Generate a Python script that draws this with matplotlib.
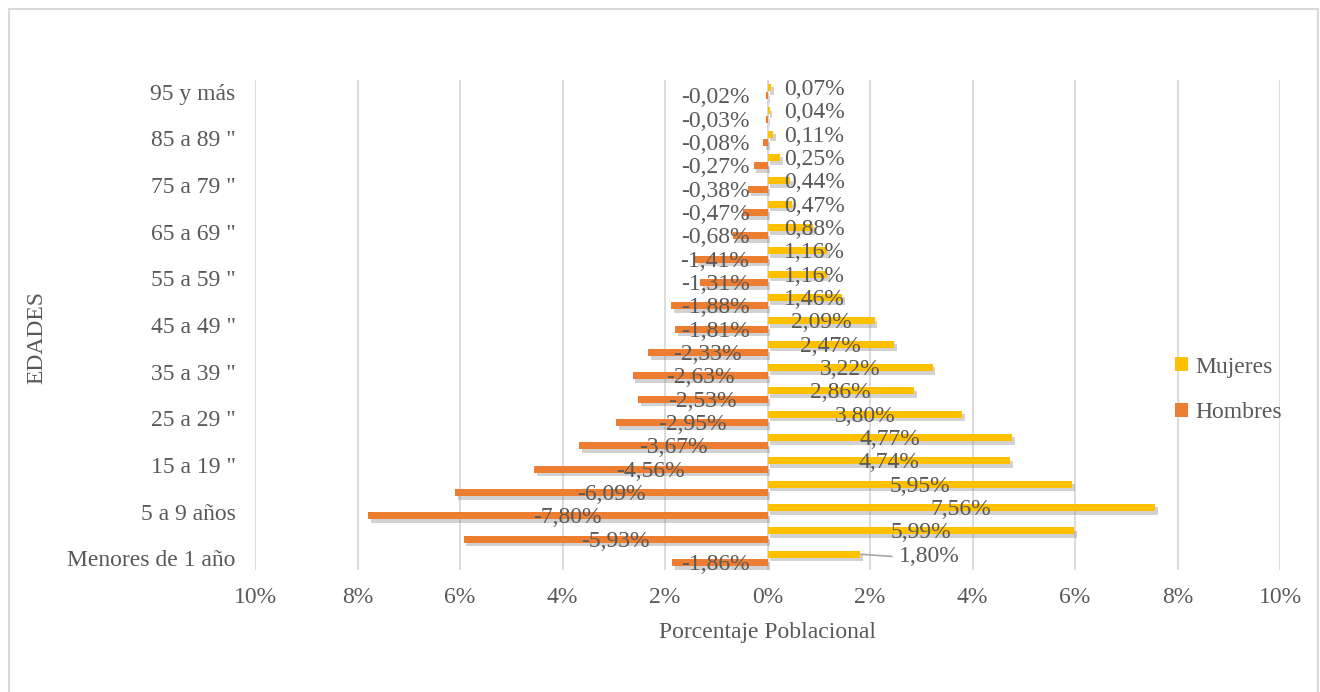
import matplotlib
matplotlib.use("Agg")
import matplotlib.pyplot as plt
import matplotlib.patheffects as pe
from matplotlib.patches import Patch, Rectangle
import numpy as np

# Age groups, youngest first
categories = [
    "Menores de 1 año", "1 a 4 años", "5 a 9 años", '10 a 14 "', '15 a 19 "',
    '20 a 24 "', '25 a 29 "', '30 a 34 "', '35 a 39 "', '40 a 44 "',
    '45 a 49 "', '50 a 54 "', '55 a 59 "', '60 a 64 "', '65 a 69 "',
    '70 a 74 "', '75 a 79 "', '80 a 84 "', '85 a 89 "', '90 a 94 "', "95 y más",
]
# Share of total population (%), men drawn as negatives
hombres = [-1.86, -5.93, -7.80, -6.09, -4.56, -3.67, -2.95, -2.53, -2.63, -2.33,
           -1.81, -1.88, -1.31, -1.41, -0.68, -0.47, -0.38, -0.27, -0.08, -0.03, -0.02]
mujeres = [1.80, 5.99, 7.56, 5.95, 4.74, 4.77, 3.80, 2.86, 3.22, 2.47,
           2.09, 1.46, 1.16, 1.16, 0.88, 0.47, 0.44, 0.25, 0.11, 0.04, 0.07]
x_ticks = [-10, -8, -6, -4, -2, 0, 2, 4, 6, 8, 10]

TXT = "#595959"
GRID = "#d9d9d9"
C_M = "#FFC000"
C_H = "#ED7D31"
FS = 17

plt.rcParams["font.family"] = ["Liberation Serif", "DejaVu Serif"]

fig = plt.figure(figsize=(13.2, 6.92), dpi=100)
ax = fig.add_axes([255 / 1320, 122 / 692, 1025 / 1320, 490 / 692])

y = np.arange(len(categories))
off = 0.18
h = 0.31
shadow = [pe.SimplePatchShadow(offset=(2, -2.5), shadow_rgbFace="#7f7f7f", alpha=0.35), pe.Normal()]

bm = ax.barh(y + off, mujeres, height=h, color=C_M, label="Mujeres", zorder=3)
bh = ax.barh(y - off, hombres, height=h, color=C_H, label="Hombres", zorder=3)
for b in list(bm) + list(bh):
    b.set_path_effects(shadow)

ax.set_xlim(-10, 10)
ax.set_ylim(-0.5, len(categories) - 0.5)
ax.set_xticks(x_ticks)
ax.set_xticklabels([f"{abs(t)}%" for t in x_ticks])
ax.set_yticks(y[::2])
ax.set_yticklabels(categories[::2])
ax.tick_params(axis="both", length=0, labelsize=FS, colors=TXT)
ax.tick_params(axis="y", pad=14)
ax.tick_params(axis="x", pad=12)
ax.grid(axis="x", color=GRID, linewidth=1.3, zorder=0)
ax.axvline(0, color=GRID, linewidth=1.3, zorder=1)
for s in ax.spines.values():
    s.set_visible(False)


def fmt(v):
    return f"{v:.2f}%".replace(".", ",")


# Data labels: centred on each bar, pushed clear of the zero line when the bar is short
for yi, v in zip(y, mujeres):
    if yi == 0:
        ax.annotate(fmt(v), xy=(v, yi + off), xytext=(50, -2), textcoords="offset points",
                    ha="center", va="center", fontsize=FS, color=TXT, zorder=5,
                    arrowprops=dict(arrowstyle="-", color="#a6a6a6", lw=1.2,
                                    shrinkA=3, shrinkB=1, relpos=(0, 0.5)))
    elif v / 2 < 0.95:
        ax.annotate(fmt(v), xy=(0, yi + off), xytext=(12, -1.5), textcoords="offset points",
                    ha="left", va="center", fontsize=FS, color=TXT, zorder=5)
    else:
        ax.annotate(fmt(v), xy=(v / 2, yi + off), xytext=(0, -1.5), textcoords="offset points",
                    ha="center", va="center", fontsize=FS, color=TXT, zorder=5)

for yi, v in zip(y, hombres):
    if v / 2 > -1.0:
        ax.annotate(fmt(v), xy=(0, yi - off), xytext=(-13, -1.5), textcoords="offset points",
                    ha="right", va="center", fontsize=FS, color=TXT, zorder=5)
    else:
        ax.annotate(fmt(v), xy=(v / 2, yi - off), xytext=(0, -1.5), textcoords="offset points",
                    ha="center", va="center", fontsize=FS, color=TXT, zorder=5)

ax.set_xlabel("Porcentaje Poblacional", fontsize=FS, color=TXT, labelpad=10)
fig.text(37 / 1320, 1 - 338 / 692, "EDADES", rotation=90, fontsize=FS, color=TXT,
         ha="center", va="center")

handles = [Patch(facecolor=C_M, label="Mujeres"), Patch(facecolor=C_H, label="Hombres")]
fig.legend(handles=handles, loc="center left", bbox_to_anchor=(1175 / 1320, 1 - 390 / 692),
           frameon=False, fontsize=FS, labelcolor=TXT, handlelength=0.55, handleheight=0.55,
           handletextpad=0.3, labelspacing=1.05, borderpad=0, borderaxespad=0)

fig.patches.append(Rectangle((9 / 1320, -0.05), 1309 / 1320, 1.05 - 9 / 692,
                             transform=fig.transFigure, fill=False, edgecolor="#d9d9d9",
                             linewidth=1.5))

fig.savefig("out.png", dpi=100, facecolor="white")
